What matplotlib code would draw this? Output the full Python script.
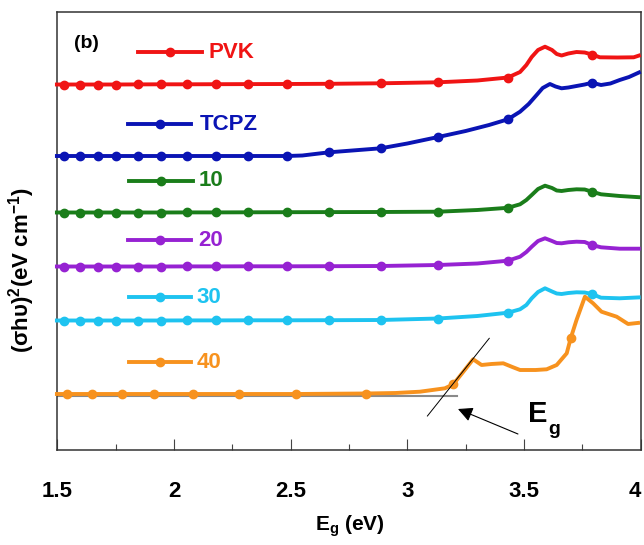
import matplotlib
matplotlib.use("Agg")
import matplotlib.pyplot as plt
from matplotlib import font_manager
from matplotlib.ticker import MultipleLocator

# ---------------- data (y in arbitrary offset units) ----------------
markers_x = [1.528, 1.598, 1.674, 1.751, 1.844, 1.944, 2.054, 2.182, 2.319, 2.484,
             2.665, 2.886, 3.132, 3.431, 3.791]

pvk_x = [1.49, 1.528, 1.598, 1.674, 1.751, 1.844, 1.944, 2.054, 2.182, 2.319, 2.484, 2.665,
         2.886, 3.132, 3.30, 3.431, 3.483, 3.51, 3.533, 3.56, 3.59, 3.62, 3.64, 3.661, 3.69,
         3.725, 3.76, 3.791, 3.825, 3.9, 3.97, 4.0]
pvk_y = [365.5, 365.5, 365.5, 365.5, 365.5, 365.6, 365.7, 365.7, 365.8, 365.9, 366.0, 366.2,
         366.7, 367.7, 369.5, 372.5, 378, 385, 393, 400, 403.3, 400, 396, 394.5, 396.5,
         398, 397.5, 395.5, 392.7, 392.5, 392.7, 395]

tcpz_x = [1.49, 1.528, 1.598, 1.674, 1.751, 1.844, 1.944, 2.054, 2.182, 2.319, 2.484, 2.55,
          2.665, 2.886, 3.0, 3.132, 3.25, 3.35, 3.431, 3.483, 3.52, 3.554, 3.58, 3.611, 3.635,
          3.661, 3.69, 3.725, 3.76, 3.791, 3.83, 3.87, 3.91, 3.95, 4.0]
tcpz_y = [294, 294, 294, 294, 294, 294, 294, 294, 294, 294, 294, 294.5,
          297.7, 301.7, 306.5, 313, 319, 325, 330.7, 338.3, 346, 355, 362, 366, 363.5,
          361.7, 362.5, 364, 365.5, 367.3, 365, 366.5, 370, 373, 378.3]

s10_x = [1.49, 1.528, 1.598, 1.674, 1.751, 1.844, 1.944, 2.054, 2.182, 2.319, 2.484, 2.665,
         2.886, 3.132, 3.30, 3.431, 3.483, 3.51, 3.533, 3.56, 3.59, 3.62, 3.64, 3.661, 3.69,
         3.725, 3.76, 3.791, 3.83, 3.91, 4.0]
s10_y = [237.5, 237.5, 237.5, 237.5, 237.5, 237.5, 237.5, 237.6, 237.6, 237.7, 237.8, 237.9,
         238.0, 238.3, 240, 242.2, 245.7, 250, 255, 261, 264.3, 262, 259.5, 259, 260,
         260.7, 260.5, 258.3, 255.7, 254, 252.7]

s20_x = [1.49, 1.528, 1.598, 1.674, 1.751, 1.844, 1.944, 2.054, 2.182, 2.319, 2.484, 2.665,
         2.886, 3.132, 3.30, 3.431, 3.483, 3.51, 3.533, 3.56, 3.59, 3.62, 3.64, 3.661, 3.69,
         3.725, 3.76, 3.791, 3.83, 3.91, 4.0]
s20_y = [183.5, 183.5, 183.5, 183.5, 183.5, 183.5, 183.5, 183.6, 183.6, 183.7, 183.7, 183.8,
         184, 185, 186.5, 189.3, 193.3, 198, 203.3, 209, 211.7, 209, 207, 206.7, 207.7,
         208.3, 208, 205, 202.7, 201.3, 201.3]

s30_x = [1.49, 1.528, 1.598, 1.674, 1.751, 1.844, 1.944, 2.054, 2.182, 2.319, 2.484, 2.665,
         2.886, 3.132, 3.30, 3.431, 3.483, 3.51, 3.533, 3.56, 3.59, 3.62, 3.64, 3.661, 3.69,
         3.725, 3.76, 3.791, 3.83, 3.91, 4.0]
s30_y = [129.5, 129.5, 129.5, 129.5, 129.5, 129.5, 129.5, 129.6, 129.6, 129.7, 129.7, 129.8,
         130, 131.5, 134, 137.3, 140.7, 145, 151.7, 158, 161.7, 158.5, 156.5, 156, 157,
         157.7, 157.5, 156, 152.3, 151.7, 152.7]

s40_markers_x = [1.543, 1.650, 1.776, 1.916, 2.083, 2.280, 2.524, 2.824, 3.197, 3.700]
s40_x = [1.49, 1.543, 1.650, 1.776, 1.916, 2.083, 2.280, 2.524, 2.824, 2.95, 3.054, 3.161,
         3.197, 3.240, 3.282, 3.318, 3.36, 3.411, 3.45, 3.483, 3.55, 3.597, 3.640, 3.683,
         3.700, 3.725, 3.761, 3.796, 3.832, 3.897, 3.946, 3.997]
s40_y = [56, 56, 56, 56, 56, 56, 56, 56, 56.5, 57, 58.3, 61.7,
         65.7, 78.3, 90.7, 85, 86, 86.7, 83, 80, 80, 80.7, 85, 96.7,
         111.7, 130, 153.3, 146.7, 138.3, 133.3, 126, 127.3]

series_names = ["PVK", "TCPZ", "10", "20", "30", "40"]
series_colors = ["#f01414", "#0a14b4", "#1a7d1a", "#9622d2", "#1ec3f0", "#f7921e"]
series_x = [pvk_x, tcpz_x, s10_x, s20_x, s30_x, s40_x]
series_y = [pvk_y, tcpz_y, s10_y, s20_y, s30_y, s40_y]
series_marks = [markers_x, markers_x, markers_x, markers_x, markers_x, s40_markers_x]

# in-plot label entries: line start, line end, marker x, height, text x
label_line_x0 = [1.846, 1.804, 1.807, 1.803, 1.806, 1.806]
label_line_x1 = [2.119, 2.072, 2.080, 2.072, 2.075, 2.075]
label_mark_x = [1.983, 1.940, 1.944, 1.940, 1.940, 1.940]
label_y = [398, 325.7, 269, 210, 152.7, 87.7]
label_text_x = [2.149, 2.111, 2.107, 2.103, 2.097, 2.097]

# Eg construction
baseline_x = [1.5, 3.213]
baseline_y = [54, 54]
tangent_x = [3.086, 3.351]
tangent_y = [34, 111.7]
arrow_tail = (3.474, 16)
arrow_head = (3.217, 41)

tick_vals = [1.5, 2, 2.5, 3, 3.5, 4]
tick_labels = ["1.5", "2", "2.5", "3", "3.5", "4"]

# ---------------- fonts ----------------
names = {f.name for f in font_manager.fontManager.ttflist}
narrow = "Liberation Sans Narrow" in names
fam = ["Liberation Sans Narrow", "Liberation Sans", "DejaVu Sans"] if narrow else ["Liberation Sans", "DejaVu Sans"]
plt.rcParams["font.family"] = fam
plt.rcParams["mathtext.fontset"] = "custom"
base = fam[0]
plt.rcParams["mathtext.rm"] = base
plt.rcParams["mathtext.bf"] = base + ":bold"
plt.rcParams["mathtext.it"] = base + ":bold"

fig = plt.figure(figsize=(6.44, 5.45), dpi=100)
ax = fig.add_axes([57.3 / 644, 95 / 545, 583.4 / 644, 438 / 545])

LW = 2.8
MS = 6.0
for xs, ys, mk, c in zip(series_x, series_y, series_marks, series_colors):
    idx = [xs.index(m) for m in mk]
    ax.plot(xs, ys, color=c, lw=LW, marker="o", markersize=MS, markevery=idx,
            clip_on=False, zorder=3, solid_capstyle="butt")

for name, c, x0, x1, xm, yy, xt in zip(series_names, series_colors, label_line_x0,
                                        label_line_x1, label_mark_x, label_y, label_text_x):
    ax.plot([x0, x1], [yy, yy], color=c, lw=LW, zorder=3)
    ax.plot([xm], [yy], color=c, marker="o", markersize=MS, zorder=3)
    ax.text(xt, yy, name, color=c, fontsize=16, fontweight="bold",
            va="center", ha="left")

ax.plot(baseline_x, baseline_y, color="#8a8a8a", lw=1.5, zorder=2)
ax.plot(tangent_x, tangent_y, color="black", lw=0.7, zorder=4)
ax.annotate("", xy=arrow_head, xytext=arrow_tail,
            arrowprops=dict(arrowstyle="-|>", color="black", lw=0.8,
                            mutation_scale=22, shrinkA=0, shrinkB=0))
ax.text(3.517, 28, "E", fontsize=21, fontweight="bold", va="baseline", ha="left")
ax.text(3.602, 15.5, "g", fontsize=14, fontweight="bold", va="baseline", ha="left")
ax.text(1.572, 406.5, "(b)", fontsize=14, fontweight="bold", va="center", ha="left")

ax.set_xlim(1.5, 4.0)
ax.set_ylim(0, 438)
ax.xaxis.set_minor_locator(MultipleLocator(0.25))
ax.set_xticks(tick_vals)
ax.set_xticklabels(tick_labels, fontweight="bold")
ax.tick_params(axis="x", which="major", direction="in", length=8, width=0.8,
               color="#444444", pad=22, labelsize=16)
ax.tick_params(axis="x", which="minor", direction="in", length=4.5, width=0.8,
               color="#444444")
ax.tick_params(axis="y", left=False, labelleft=False)
ax.get_xticklabels()[-1].set_horizontalalignment("right")

for s in ax.spines.values():
    s.set_color("#333333")
    s.set_linewidth(1.1)

ax.set_xlabel(r"E$_\mathbf{g}$ (eV)", fontsize=15, fontweight="bold")
ax.xaxis.set_label_coords(0.502, -0.145)
ax.set_ylabel(r"(σhυ)$^\mathbf{2}$(eV cm$^\mathbf{-1}$)", fontsize=16,
              fontweight="bold")
ax.yaxis.set_label_coords(-0.034, 0.411)

fig.savefig("out.png", dpi=100)
